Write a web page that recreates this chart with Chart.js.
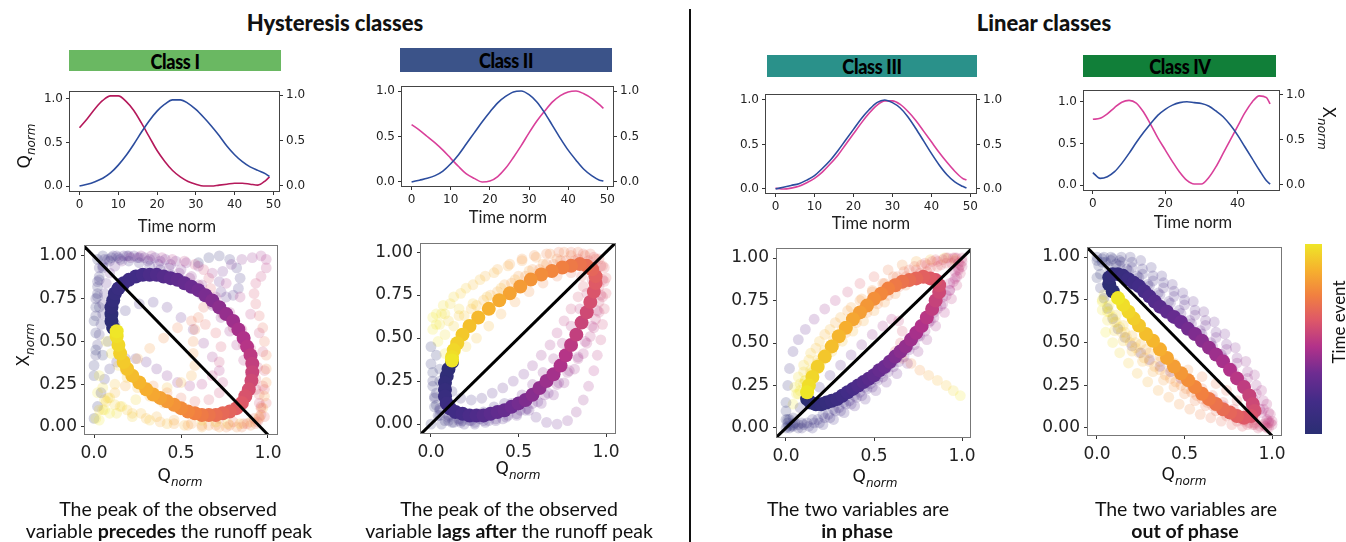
<!DOCTYPE html>
<html>
<head>
<meta charset="utf-8">
<script src="https://cdn.jsdelivr.net/npm/chart.js@4.4.1/dist/chart.umd.min.js"></script>
<style>
  html, body { margin: 0; padding: 0; background: #fff; }
  #page { position: relative; width: 1346px; height: 542px; overflow: hidden; font-family: Lato, 'Open Sans', sans-serif; color: #111; }
  canvas.layer { position: absolute; left: 0; top: 0; }
  .t { position: absolute; white-space: nowrap; transform: translate(-50%, -50%); }
  .title { font-weight: 900; font-size: 22px; }
  .bar { position: absolute; }
  .bar span { position: absolute; left: 50%; top: 50%; transform: translate(-50%, -52%) scaleX(0.86); font-weight: 900; font-size: 21px; letter-spacing: -0.4px; color: #000; white-space: nowrap; }
  .axl { font-size: 16.5px; color: #222; }
  .cap { font-size: 19.5px; color: #111; }
  .mpl { font-family: 'DejaVu Sans', sans-serif; font-size: 17px; color: #111; }
  .mpl i { font-size: 12px; position: relative; top: 5px; }
  .rot { transform: translate(-50%, -50%) rotate(-90deg); }
  .rotr { transform: translate(-50%, -50%) rotate(90deg); }
  #divider { position: absolute; left: 689px; top: 9px; width: 2px; height: 533px; background: #111; }
  #cbar { position: absolute; left: 1305px; top: 244px; width: 17px; height: 190px; }
</style>
</head>
<body>
<div id="page">
  <div class="t title" style="left:335px;top:22px">Hysteresis classes</div>
  <div class="t title" style="left:1044px;top:22px">Linear classes</div>
  <div id="divider"></div>

  <div class="bar" style="left:69px;top:50px;width:212px;height:21px;background:#6ab862"><span>Class I</span></div>
  <div class="bar" style="left:400px;top:48px;width:212px;height:24px;background:#3b5389"><span>Class II</span></div>
  <div class="bar" style="left:767px;top:55px;width:210px;height:22px;background:#2a918a"><span>Class III</span></div>
  <div class="bar" style="left:1083px;top:55px;width:193px;height:22px;background:#117f39"><span>Class IV</span></div>

  <canvas class="layer" id="l1" width="1346" height="542"></canvas>
  <canvas class="layer" id="l2" width="1346" height="542"></canvas>
  <canvas class="layer" id="l3" width="1346" height="542"></canvas>
  <canvas class="layer" id="l4" width="1346" height="542"></canvas>
  <canvas class="layer" id="s1" width="1346" height="542"></canvas>
  <canvas class="layer" id="s2" width="1346" height="542"></canvas>
  <canvas class="layer" id="s3" width="1346" height="542"></canvas>
  <canvas class="layer" id="s4" width="1346" height="542"></canvas>

  <div class="t axl" style="left:177px;top:226px">Time norm</div>
  <div class="t axl" style="left:508px;top:217px">Time norm</div>
  <div class="t axl" style="left:871px;top:223px">Time norm</div>
  <div class="t axl" style="left:1193px;top:222px">Time norm</div>

  <div class="t mpl rot" style="left:24px;top:146px">Q<i>norm</i></div>
  <div class="t mpl rotr" style="left:1329px;top:128px">X<i>norm</i></div>
  <div class="t mpl rot" style="left:23px;top:345px">X<i>norm</i></div>

  <div class="t mpl" style="left:180px;top:475px">Q<i>norm</i></div>
  <div class="t mpl" style="left:518px;top:468px">Q<i>norm</i></div>
  <div class="t mpl" style="left:875px;top:476px">Q<i>norm</i></div>
  <div class="t mpl" style="left:1184px;top:474px">Q<i>norm</i></div>

  <div id="cbar"></div>
  <div class="t rot" style="left:1338px;top:322px;font-size:17px;color:#111">Time event</div>

  <div class="t cap" style="left:168px;top:508px">The peak of the observed</div>
  <div class="t cap" style="left:169px;top:530px">variable <b>precedes</b> the runoff peak</div>
  <div class="t cap" style="left:509px;top:508px">The peak of the observed</div>
  <div class="t cap" style="left:509px;top:530px">variable <b>lags after</b> the runoff peak</div>
  <div class="t cap" style="left:858px;top:508px">The two variables are</div>
  <div class="t cap" style="left:857px;top:530px"><b>in phase</b></div>
  <div class="t cap" style="left:1186px;top:508px">The two variables are</div>
  <div class="t cap" style="left:1185px;top:530px"><b>out of phase</b></div>
</div>

<script>
// time axis of the small hydrograph panels
const timeSteps = [0, 2, 4, 6, 8, 10, 12, 14, 16, 18, 20, 22, 24, 26, 28, 30, 32, 34, 36, 38, 40, 42, 44, 46, 48, 49];

// Q_norm (blue, left axis) and X_norm (right axis) per class
const qClass1 = [0.00, 0.02, 0.05, 0.09, 0.15, 0.24, 0.35, 0.48, 0.62, 0.75, 0.86, 0.94, 0.99, 0.99, 0.95, 0.88, 0.79, 0.69, 0.58, 0.46, 0.36, 0.28, 0.22, 0.18, 0.14, 0.11];
const xClass1 = [0.64, 0.74, 0.85, 0.94, 0.99, 0.99, 0.93, 0.83, 0.69, 0.54, 0.39, 0.27, 0.17, 0.10, 0.05, 0.02, 0.00, 0.00, 0.01, 0.02, 0.03, 0.03, 0.02, 0.01, 0.06, 0.10];
const qClass2 = [0.00, 0.02, 0.04, 0.07, 0.12, 0.20, 0.30, 0.42, 0.54, 0.66, 0.77, 0.87, 0.94, 0.99, 1.00, 0.96, 0.88, 0.76, 0.62, 0.48, 0.35, 0.24, 0.14, 0.07, 0.02, 0.01];
const xClass2 = [0.63, 0.57, 0.50, 0.43, 0.35, 0.26, 0.17, 0.09, 0.04, 0.00, 0.01, 0.06, 0.15, 0.27, 0.40, 0.54, 0.67, 0.78, 0.88, 0.95, 0.99, 1.00, 0.97, 0.92, 0.85, 0.81];
const qClass3 = [0.00, 0.02, 0.04, 0.06, 0.10, 0.15, 0.23, 0.32, 0.43, 0.55, 0.67, 0.79, 0.89, 0.97, 1.00, 0.97, 0.91, 0.81, 0.68, 0.54, 0.40, 0.27, 0.16, 0.08, 0.03, 0.01];
const xClass3 = [0.01, 0.00, 0.01, 0.03, 0.07, 0.12, 0.19, 0.28, 0.38, 0.50, 0.62, 0.74, 0.85, 0.94, 0.99, 0.99, 0.95, 0.87, 0.77, 0.65, 0.53, 0.41, 0.30, 0.20, 0.12, 0.10];
const qClass4 = [0.15, 0.08, 0.10, 0.16, 0.26, 0.38, 0.51, 0.63, 0.74, 0.84, 0.91, 0.96, 0.99, 1.00, 0.99, 0.98, 0.95, 0.89, 0.82, 0.72, 0.60, 0.46, 0.32, 0.18, 0.05, 0.01];
const xClass4 = [0.73, 0.74, 0.79, 0.86, 0.92, 0.94, 0.91, 0.81, 0.67, 0.52, 0.39, 0.26, 0.14, 0.05, 0.01, 0.01, 0.08, 0.20, 0.35, 0.50, 0.65, 0.80, 0.92, 0.99, 0.97, 0.90];

const timeTicks = [0, 10, 20, 30, 40, 50];
const timeTicks4 = [0, 20, 40];
const lineTicks = [0, 0.5, 1];
const scatTicksX = [0, 0.5, 1];
const scatTicksY = [0, 0.25, 0.5, 0.75, 1];

// highlighted event per class, [Q, X] in time order
const mainEvent1 = [[0.11,0.58],[0.10,0.62],[0.10,0.66],[0.10,0.70],[0.11,0.74],[0.12,0.78],[0.14,0.81],[0.17,0.84],[0.20,0.86],[0.24,0.88],[0.28,0.89],[0.32,0.89],[0.36,0.89],[0.40,0.88],[0.44,0.87],[0.48,0.86],[0.52,0.84],[0.56,0.82],[0.60,0.80],[0.64,0.77],[0.68,0.74],[0.72,0.70],[0.76,0.66],[0.80,0.62],[0.83,0.57],[0.86,0.52],[0.88,0.47],[0.90,0.42],[0.91,0.37],[0.91,0.32],[0.905,0.27],[0.89,0.22],[0.87,0.18],[0.85,0.14],[0.82,0.11],[0.78,0.09],[0.74,0.08],[0.70,0.07],[0.66,0.07],[0.62,0.07],[0.58,0.08],[0.54,0.09],[0.50,0.11],[0.46,0.13],[0.42,0.15],[0.38,0.17],[0.34,0.19],[0.30,0.22],[0.26,0.26],[0.22,0.30],[0.19,0.34],[0.17,0.38],[0.15,0.43],[0.14,0.48],[0.13,0.53],[0.13,0.56]];
const mainEvent2 = [[0.12,0.36],[0.10,0.32],[0.09,0.28],[0.08,0.24],[0.08,0.20],[0.08,0.16],[0.09,0.12],[0.11,0.09],[0.14,0.07],[0.18,0.06],[0.22,0.05],[0.26,0.05],[0.30,0.05],[0.34,0.06],[0.38,0.07],[0.42,0.08],[0.46,0.10],[0.50,0.12],[0.54,0.14],[0.58,0.17],[0.62,0.21],[0.66,0.25],[0.70,0.29],[0.74,0.34],[0.77,0.40],[0.80,0.46],[0.83,0.52],[0.86,0.59],[0.89,0.65],[0.91,0.71],[0.93,0.77],[0.94,0.82],[0.94,0.86],[0.92,0.90],[0.89,0.92],[0.85,0.93],[0.80,0.92],[0.75,0.91],[0.69,0.89],[0.63,0.87],[0.57,0.84],[0.51,0.80],[0.45,0.76],[0.39,0.72],[0.33,0.67],[0.27,0.62],[0.22,0.57],[0.18,0.52],[0.15,0.47],[0.13,0.43],[0.12,0.39],[0.12,0.37]];
const mainEvent3 = [[0.12,0.17],[0.14,0.15],[0.17,0.14],[0.20,0.14],[0.23,0.15],[0.26,0.16],[0.29,0.17],[0.32,0.19],[0.35,0.21],[0.38,0.23],[0.41,0.25],[0.44,0.27],[0.47,0.29],[0.50,0.31],[0.53,0.34],[0.56,0.36],[0.59,0.39],[0.62,0.42],[0.65,0.45],[0.68,0.48],[0.71,0.52],[0.74,0.56],[0.77,0.60],[0.80,0.65],[0.83,0.70],[0.85,0.75],[0.87,0.80],[0.87,0.84],[0.85,0.87],[0.82,0.88],[0.78,0.89],[0.74,0.88],[0.70,0.87],[0.66,0.86],[0.62,0.84],[0.58,0.82],[0.54,0.79],[0.50,0.76],[0.46,0.72],[0.42,0.68],[0.38,0.64],[0.34,0.59],[0.30,0.54],[0.26,0.48],[0.22,0.42],[0.18,0.36],[0.15,0.30],[0.13,0.25],[0.12,0.21]];
const mainEvent4 = [[0.09,0.80],[0.07,0.84],[0.07,0.88],[0.09,0.90],[0.12,0.90],[0.15,0.89],[0.18,0.87],[0.21,0.85],[0.24,0.83],[0.27,0.80],[0.30,0.77],[0.33,0.74],[0.36,0.71],[0.40,0.68],[0.44,0.65],[0.48,0.62],[0.52,0.58],[0.56,0.55],[0.60,0.51],[0.64,0.47],[0.68,0.43],[0.72,0.39],[0.76,0.34],[0.80,0.29],[0.84,0.24],[0.87,0.19],[0.89,0.14],[0.90,0.10],[0.88,0.07],[0.84,0.06],[0.80,0.07],[0.76,0.09],[0.72,0.11],[0.68,0.14],[0.64,0.17],[0.60,0.20],[0.56,0.24],[0.52,0.28],[0.48,0.32],[0.44,0.36],[0.40,0.41],[0.36,0.46],[0.32,0.51],[0.28,0.55],[0.24,0.60],[0.21,0.64],[0.18,0.68],[0.15,0.72],[0.12,0.76]];

// other (faint) events per class
const otherEvents1 = [
  [[0.01,0.45],[0.01,0.55],[0.01,0.65],[0.01,0.75],[0.02,0.85],[0.03,0.93],[0.06,0.98],[0.11,1.0],[0.17,1.0],[0.23,1.0],[0.29,0.99],[0.35,0.99],[0.41,0.98],[0.47,0.97],[0.53,0.96],[0.60,0.94],[0.68,0.90],[0.76,0.84],[0.84,0.76],[0.90,0.66],[0.95,0.55],[0.97,0.44],[0.98,0.33],[0.98,0.22],[0.96,0.12],[0.92,0.05],[0.86,0.02],[0.78,0.01],[0.70,0.01],[0.62,0.01],[0.54,0.01],[0.46,0.02],[0.38,0.03],[0.30,0.05],[0.22,0.08],[0.15,0.12],[0.09,0.17],[0.05,0.23],[0.03,0.30]],
  [[0.02,0.98],[0.05,1.0],[0.10,0.99],[0.15,0.98],[0.20,0.97],[0.26,0.96],[0.32,0.94],[0.38,0.92],[0.44,0.89],[0.50,0.86],[0.56,0.82],[0.62,0.77],[0.68,0.71],[0.73,0.64],[0.78,0.56],[0.82,0.48],[0.86,0.39],[0.90,0.30],[0.93,0.22],[0.95,0.14],[0.96,0.07],[0.94,0.03],[0.88,0.02],[0.80,0.03],[0.72,0.05],[0.64,0.07],[0.56,0.09],[0.48,0.11],[0.40,0.14],[0.32,0.18],[0.25,0.23],[0.19,0.29],[0.14,0.36],[0.10,0.43],[0.07,0.50]],
  [[0.0,0.30],[0.0,0.36],[0.01,0.42],[0.02,0.48],[0.03,0.54],[0.04,0.60],[0.05,0.66],[0.05,0.72],[0.06,0.78],[0.07,0.84],[0.09,0.90],[0.12,0.94],[0.16,0.97],[0.21,0.99],[0.27,1.0],[0.33,1.0],[0.39,0.99],[0.45,0.98],[0.52,0.97],[0.58,0.95],[0.63,0.92],[0.66,0.87],[0.67,0.81],[0.66,0.75],[0.63,0.70],[0.60,0.64],[0.58,0.57],[0.57,0.50],[0.57,0.43],[0.58,0.36],[0.56,0.30],[0.50,0.26],[0.42,0.23],[0.33,0.20],[0.24,0.16],[0.16,0.12],[0.09,0.08]],
  [[0.60,0.96],[0.66,0.99],[0.72,1.0],[0.78,0.98],[0.82,0.93],[0.84,0.87],[0.83,0.81],[0.80,0.77],[0.76,0.76],[0.73,0.79],[0.72,0.85],[0.74,0.91],[0.79,0.95],[0.85,0.98],[0.91,0.99],[0.96,1.0],[0.99,0.98],[0.99,0.93],[0.96,0.88],[0.93,0.84],[0.92,0.78],[0.93,0.72],[0.95,0.65],[0.97,0.58],[0.98,0.50],[0.99,0.42],[0.99,0.34],[0.99,0.26],[0.98,0.18],[0.97,0.11],[0.95,0.06],[0.90,0.03],[0.84,0.02],[0.77,0.02],[0.70,0.03],[0.62,0.04]],
  [[0.05,0.42],[0.08,0.50],[0.12,0.60],[0.18,0.68],[0.26,0.72],[0.34,0.73],[0.42,0.70],[0.50,0.64],[0.57,0.57],[0.63,0.49],[0.68,0.41],[0.72,0.33],[0.74,0.26],[0.72,0.20],[0.66,0.16],[0.58,0.15],[0.50,0.17],[0.42,0.20],[0.34,0.24],[0.26,0.26],[0.18,0.24],[0.12,0.20],[0.07,0.15],[0.03,0.10],[0.01,0.05]],
  [[0.0,0.05],[0.02,0.12],[0.04,0.20],[0.06,0.28],[0.09,0.34],[0.13,0.38],[0.18,0.40],[0.24,0.40],[0.30,0.38],[0.36,0.34],[0.42,0.30],[0.48,0.26],[0.55,0.24],[0.62,0.25],[0.68,0.30],[0.72,0.38],[0.73,0.47],[0.70,0.55],[0.64,0.60],[0.56,0.62],[0.48,0.58],[0.40,0.52],[0.32,0.46],[0.25,0.40],[0.18,0.33],[0.12,0.25],[0.08,0.17],[0.05,0.10],[0.03,0.04]],
  [[0.0,0.62],[0.01,0.70],[0.02,0.78],[0.03,0.86],[0.05,0.93],[0.09,0.97],[0.14,0.99],[0.20,1.0],[0.26,0.99],[0.32,0.98],[0.38,0.97],[0.44,0.95],[0.50,0.92],[0.56,0.88],[0.62,0.83],[0.70,0.76],[0.78,0.67],[0.85,0.57],[0.90,0.46],[0.94,0.35],[0.97,0.24],[0.99,0.14],[0.98,0.06],[0.93,0.02],[0.85,0.0],[0.76,0.0],[0.66,0.01],[0.56,0.02],[0.46,0.04],[0.36,0.06],[0.27,0.08],[0.19,0.10],[0.12,0.13],[0.06,0.16],[0.02,0.20]],
  [[0.03,0.70],[0.02,0.76],[0.02,0.82],[0.03,0.88],[0.05,0.94],[0.08,0.98],[0.13,1.0],[0.19,1.0],[0.25,0.99],[0.31,0.97],[0.37,0.95],[0.43,0.93],[0.49,0.90],[0.55,0.87],[0.60,0.83],[0.64,0.78],[0.68,0.72],[0.74,0.66],[0.80,0.58],[0.86,0.48],[0.90,0.38],[0.93,0.28],[0.95,0.19],[0.96,0.11],[0.95,0.05],[0.90,0.01],[0.82,0.0],[0.72,0.0],[0.62,0.0],[0.52,0.01],[0.42,0.02],[0.32,0.04],[0.22,0.06],[0.13,0.08],[0.06,0.10]]
];
const otherEvents2 = [
  [[0.02,0.10],[0.04,0.05],[0.08,0.02],[0.13,0.01],[0.19,0.0],[0.25,0.0],[0.31,0.01],[0.37,0.02],[0.43,0.04],[0.49,0.06],[0.55,0.09],[0.61,0.13],[0.67,0.18],[0.73,0.24],[0.79,0.31],[0.84,0.39],[0.88,0.48],[0.92,0.57],[0.95,0.66],[0.97,0.75],[0.98,0.84],[0.97,0.92],[0.93,0.97],[0.87,0.99],[0.80,1.0],[0.73,1.0],[0.66,0.99],[0.59,0.98],[0.52,0.96],[0.45,0.93],[0.38,0.90],[0.31,0.86],[0.24,0.81],[0.17,0.76],[0.11,0.70],[0.06,0.64],[0.03,0.58]],
  [[0.01,0.30],[0.01,0.22],[0.02,0.15],[0.05,0.08],[0.10,0.04],[0.16,0.02],[0.22,0.02],[0.28,0.03],[0.34,0.05],[0.40,0.08],[0.46,0.12],[0.52,0.17],[0.58,0.23],[0.64,0.30],[0.70,0.38],[0.75,0.47],[0.80,0.57],[0.85,0.67],[0.89,0.76],[0.92,0.84],[0.93,0.91],[0.90,0.95],[0.84,0.96],[0.77,0.95],[0.70,0.93],[0.62,0.90],[0.54,0.86],[0.46,0.82],[0.38,0.77],[0.30,0.72],[0.23,0.67],[0.16,0.63],[0.10,0.60],[0.05,0.58],[0.01,0.55]],
  [[0.0,0.0],[0.06,0.0],[0.12,0.01],[0.18,0.02],[0.24,0.04],[0.30,0.07],[0.36,0.10],[0.42,0.12],[0.48,0.11],[0.54,0.08],[0.60,0.04],[0.66,0.01],[0.72,0.0],[0.78,0.02],[0.83,0.07],[0.87,0.14],[0.90,0.22],[0.93,0.31],[0.95,0.40],[0.97,0.49],[0.98,0.58],[0.99,0.67],[1.0,0.76],[1.0,0.85],[0.98,0.92],[0.94,0.96],[0.88,0.98],[0.80,0.98],[0.72,0.96],[0.64,0.93],[0.56,0.89],[0.48,0.84],[0.40,0.79],[0.32,0.74],[0.24,0.70],[0.16,0.67],[0.08,0.64],[0.01,0.62]],
  [[0.03,0.40],[0.05,0.32],[0.08,0.25],[0.12,0.19],[0.17,0.15],[0.23,0.14],[0.29,0.15],[0.35,0.18],[0.41,0.21],[0.47,0.25],[0.53,0.29],[0.58,0.34],[0.63,0.40],[0.68,0.46],[0.72,0.53],[0.76,0.60],[0.80,0.67],[0.84,0.74],[0.87,0.80],[0.86,0.86],[0.80,0.88],[0.72,0.86],[0.64,0.82],[0.56,0.77],[0.48,0.71],[0.40,0.64],[0.33,0.57],[0.26,0.50],[0.20,0.45],[0.14,0.42],[0.08,0.41]],
  [[0.0,0.45],[0.0,0.35],[0.01,0.25],[0.02,0.16],[0.05,0.09],[0.10,0.05],[0.16,0.03],[0.23,0.02],[0.30,0.02],[0.37,0.03],[0.44,0.05],[0.51,0.08],[0.58,0.12],[0.65,0.17],[0.72,0.23],[0.78,0.30],[0.84,0.38],[0.89,0.47],[0.93,0.56],[0.96,0.65],[0.98,0.74],[0.99,0.83],[0.99,0.91],[0.96,0.96],[0.91,0.99],[0.84,1.0],[0.76,1.0],[0.68,0.99],[0.60,0.97],[0.52,0.95],[0.44,0.92],[0.36,0.88],[0.28,0.84],[0.20,0.79],[0.13,0.74],[0.07,0.69],[0.03,0.64]],
  [[0.05,0.25],[0.03,0.18],[0.03,0.11],[0.05,0.05],[0.10,0.02],[0.17,0.01],[0.25,0.01],[0.33,0.02],[0.41,0.03],[0.49,0.05],[0.56,0.08],[0.63,0.12],[0.70,0.17],[0.76,0.24],[0.82,0.32],[0.87,0.41],[0.91,0.51],[0.94,0.61],[0.96,0.71],[0.96,0.80],[0.94,0.88],[0.89,0.93],[0.82,0.95],[0.74,0.95],[0.66,0.93],[0.58,0.90],[0.50,0.86],[0.42,0.81],[0.34,0.75],[0.26,0.69],[0.19,0.63],[0.13,0.57],[0.08,0.52],[0.04,0.48]]
];
const otherEvents3 = [
  [[0.0,0.0],[0.03,0.01],[0.07,0.02],[0.12,0.03],[0.18,0.05],[0.24,0.08],[0.30,0.12],[0.36,0.16],[0.42,0.21],[0.48,0.26],[0.54,0.32],[0.60,0.38],[0.66,0.45],[0.72,0.52],[0.78,0.60],[0.84,0.68],[0.89,0.77],[0.93,0.85],[0.96,0.92],[0.98,0.97],[0.96,1.0],[0.91,1.0],[0.85,0.99],[0.79,0.97],[0.73,0.95],[0.67,0.92],[0.61,0.89],[0.55,0.85],[0.49,0.81],[0.43,0.76],[0.37,0.71],[0.31,0.65],[0.25,0.58],[0.19,0.51],[0.14,0.44],[0.10,0.37],[0.07,0.30],[0.05,0.24]],
  [[0.02,0.05],[0.05,0.03],[0.10,0.02],[0.16,0.03],[0.22,0.06],[0.28,0.10],[0.34,0.14],[0.40,0.18],[0.46,0.23],[0.52,0.28],[0.58,0.33],[0.64,0.39],[0.70,0.46],[0.76,0.54],[0.82,0.63],[0.88,0.72],[0.93,0.81],[0.97,0.89],[1.0,0.95],[1.0,1.0],[0.95,1.0],[0.89,0.99],[0.83,0.98],[0.77,0.96],[0.70,0.93],[0.63,0.89],[0.56,0.85],[0.49,0.80],[0.42,0.75],[0.35,0.69],[0.28,0.62],[0.22,0.55],[0.17,0.47],[0.13,0.40],[0.10,0.33],[0.08,0.26],[0.06,0.20]],
  [[0.0,0.10],[0.01,0.05],[0.04,0.01],[0.09,0.0],[0.15,0.0],[0.21,0.02],[0.27,0.05],[0.33,0.09],[0.39,0.13],[0.45,0.17],[0.51,0.22],[0.57,0.27],[0.63,0.32],[0.69,0.38],[0.75,0.45],[0.80,0.52],[0.85,0.60],[0.90,0.68],[0.94,0.76],[0.97,0.84],[0.99,0.91],[0.99,0.96],[0.96,0.98],[0.91,0.97],[0.86,0.95],[0.80,0.92],[0.74,0.88],[0.68,0.84],[0.62,0.79],[0.56,0.74],[0.50,0.69],[0.44,0.63],[0.38,0.57],[0.32,0.51],[0.26,0.45],[0.20,0.39],[0.15,0.33],[0.11,0.28]],
  [[0.01,0.01],[0.04,0.06],[0.08,0.12],[0.13,0.18],[0.19,0.24],[0.25,0.31],[0.31,0.37],[0.37,0.43],[0.43,0.49],[0.49,0.55],[0.55,0.60],[0.60,0.64],[0.64,0.63],[0.66,0.57],[0.65,0.50],[0.62,0.45],[0.66,0.41],[0.71,0.38],[0.76,0.34],[0.81,0.31],[0.86,0.28],[0.91,0.25],[0.95,0.22],[0.99,0.19]],
  [[0.0,0.15],[0.01,0.25],[0.02,0.35],[0.04,0.45],[0.07,0.52],[0.11,0.58],[0.16,0.64],[0.22,0.70],[0.28,0.75],[0.35,0.80],[0.42,0.85],[0.50,0.89],[0.58,0.93],[0.66,0.96],[0.74,0.98],[0.82,0.99],[0.90,1.0],[0.96,0.99]],
  [[0.01,0.03],[0.04,0.02],[0.09,0.03],[0.15,0.05],[0.21,0.08],[0.27,0.11],[0.33,0.15],[0.39,0.19],[0.45,0.24],[0.51,0.29],[0.57,0.35],[0.63,0.41],[0.69,0.47],[0.75,0.54],[0.81,0.62],[0.86,0.70],[0.91,0.78],[0.95,0.86],[0.98,0.93],[1.0,0.98],[0.97,1.0],[0.92,1.0],[0.86,0.98],[0.80,0.96],[0.74,0.93],[0.68,0.89],[0.62,0.85],[0.56,0.80],[0.50,0.75],[0.44,0.70],[0.38,0.64],[0.32,0.58],[0.27,0.52],[0.22,0.46],[0.18,0.40],[0.14,0.34],[0.11,0.28],[0.08,0.22]],
  [[0.0,0.05],[0.02,0.0],[0.07,0.0],[0.13,0.01],[0.19,0.03],[0.25,0.06],[0.31,0.10],[0.37,0.14],[0.43,0.19],[0.49,0.24],[0.55,0.30],[0.61,0.36],[0.67,0.42],[0.73,0.49],[0.79,0.57],[0.84,0.65],[0.89,0.73],[0.93,0.81],[0.96,0.88],[0.98,0.94],[0.94,0.97],[0.88,0.96],[0.82,0.94],[0.76,0.91],[0.70,0.87],[0.64,0.83],[0.58,0.78],[0.52,0.73],[0.46,0.68],[0.40,0.62],[0.34,0.56],[0.28,0.50],[0.23,0.44],[0.18,0.38],[0.14,0.32],[0.10,0.26],[0.07,0.20],[0.04,0.14]]
];
const otherEvents4 = [
  [[0.0,1.0],[0.04,1.0],[0.09,0.99],[0.14,0.97],[0.20,0.94],[0.26,0.90],[0.32,0.86],[0.38,0.82],[0.44,0.77],[0.50,0.72],[0.56,0.66],[0.62,0.60],[0.68,0.53],[0.74,0.46],[0.80,0.38],[0.86,0.29],[0.91,0.20],[0.95,0.11],[0.98,0.04],[0.97,0.0],[0.92,0.0],[0.86,0.02],[0.80,0.04],[0.74,0.07],[0.68,0.10],[0.62,0.13],[0.56,0.16],[0.50,0.20],[0.44,0.24],[0.38,0.28],[0.32,0.33],[0.26,0.39],[0.20,0.45],[0.15,0.51],[0.10,0.57],[0.06,0.63],[0.03,0.69]],
  [[0.01,0.95],[0.05,0.97],[0.11,0.96],[0.17,0.93],[0.23,0.89],[0.29,0.84],[0.35,0.79],[0.41,0.74],[0.47,0.69],[0.53,0.63],[0.59,0.57],[0.65,0.50],[0.71,0.43],[0.77,0.35],[0.83,0.27],[0.88,0.19],[0.93,0.11],[0.97,0.05],[1.0,0.02],[0.98,0.0],[0.93,0.01],[0.87,0.03],[0.81,0.06],[0.75,0.09],[0.69,0.12],[0.63,0.15],[0.57,0.19],[0.51,0.23],[0.45,0.27],[0.39,0.31],[0.33,0.36],[0.27,0.41],[0.22,0.47],[0.17,0.53],[0.13,0.59],[0.09,0.65],[0.06,0.71]],
  [[0.02,0.90],[0.07,0.94],[0.13,0.98],[0.19,1.0],[0.25,0.98],[0.31,0.94],[0.37,0.89],[0.43,0.84],[0.49,0.79],[0.55,0.74],[0.61,0.68],[0.67,0.62],[0.73,0.55],[0.79,0.47],[0.85,0.39],[0.90,0.31],[0.94,0.22],[0.97,0.14],[0.99,0.08],[0.99,0.03],[0.95,0.02],[0.89,0.02],[0.83,0.01],[0.77,0.02],[0.71,0.04],[0.65,0.06],[0.59,0.08],[0.53,0.11],[0.47,0.14],[0.41,0.18],[0.35,0.22],[0.29,0.27],[0.23,0.32],[0.18,0.38],[0.13,0.44],[0.09,0.50],[0.05,0.56]],
  [[0.0,0.88],[0.02,0.82],[0.04,0.76],[0.06,0.70],[0.09,0.64],[0.12,0.58],[0.16,0.53],[0.20,0.48],[0.25,0.44],[0.30,0.40],[0.36,0.36],[0.42,0.33],[0.48,0.29],[0.54,0.25],[0.60,0.21],[0.66,0.17],[0.72,0.13],[0.78,0.09],[0.84,0.06],[0.90,0.03],[0.86,0.10],[0.80,0.16],[0.74,0.22],[0.68,0.26],[0.60,0.30],[0.52,0.34],[0.44,0.38],[0.36,0.42],[0.28,0.46],[0.22,0.50],[0.16,0.56],[0.11,0.62],[0.07,0.68],[0.03,0.74]],
  [[0.0,0.98],[0.03,0.99],[0.08,0.98],[0.13,0.95],[0.18,0.92],[0.24,0.88],[0.30,0.83],[0.36,0.78],[0.42,0.73],[0.48,0.67],[0.54,0.61],[0.60,0.55],[0.66,0.48],[0.72,0.41],[0.78,0.33],[0.84,0.25],[0.89,0.17],[0.94,0.09],[0.98,0.03],[0.96,0.01],[0.90,0.02],[0.84,0.04],[0.78,0.07],[0.72,0.10],[0.66,0.13],[0.60,0.17],[0.54,0.21],[0.48,0.25],[0.42,0.29],[0.36,0.34],[0.30,0.39],[0.24,0.44],[0.19,0.50],[0.14,0.56],[0.10,0.62],[0.06,0.68],[0.03,0.75]],
  [[0.03,0.97],[0.08,1.0],[0.14,1.0],[0.20,0.97],[0.26,0.93],[0.32,0.89],[0.38,0.85],[0.44,0.80],[0.50,0.75],[0.56,0.69],[0.62,0.63],[0.68,0.56],[0.74,0.49],[0.80,0.41],[0.86,0.33],[0.91,0.25],[0.95,0.16],[0.98,0.09],[1.0,0.04],[0.96,0.03],[0.90,0.05],[0.84,0.07],[0.78,0.11],[0.72,0.15],[0.66,0.19],[0.60,0.23],[0.54,0.27],[0.48,0.31],[0.42,0.35],[0.36,0.39],[0.30,0.44],[0.25,0.49],[0.20,0.54],[0.15,0.60],[0.11,0.66],[0.07,0.72],[0.04,0.78]]
];

// 1:1 and 1:-1 reference lines
const diagDown = [[-0.06, 1.06], [1.0, -0.045]];
const diagUp = [[-0.06, -0.06], [1.06, 1.06]];

const W = 1346, H = 542;
const BLUE = '#2c4d9e';

// colour map used for "Time event"
const cmapStops = [
  [0.00, [42, 46, 115]],
  [0.17, [66, 44, 135]],
  [0.32, [110, 44, 145]],
  [0.46, [178, 50, 138]],
  [0.60, [222, 88, 104]],
  [0.73, [241, 128, 64]],
  [0.86, [246, 176, 46]],
  [1.00, [239, 230, 40]]
];
function cmap(f, a) {
  for (let i = 1; i < cmapStops.length; i++) {
    if (f <= cmapStops[i][0] + 1e-9) {
      const [f0, c0] = cmapStops[i - 1], [f1, c1] = cmapStops[i];
      const k = (f - f0) / (f1 - f0);
      const c = c0.map((v, j) => Math.round(v + (c1[j] - v) * k));
      return `rgba(${c[0]},${c[1]},${c[2]},${a})`;
    }
  }
  return `rgba(239,230,40,${a})`;
}
document.getElementById('cbar').style.background =
  'linear-gradient(to top,' + cmapStops.map(s => cmap(s[0], 1) + ' ' + (s[0] * 100) + '%').join(',') + ')';

// draws the full frame round the plot area
function framePlugin(color) {
  return {
    id: 'frame',
    afterDraw(chart) {
      const a = chart.chartArea, ctx = chart.ctx;
      ctx.save();
      ctx.strokeStyle = color;
      ctx.lineWidth = 1;
      ctx.strokeRect(a.left - 0.5, a.top - 0.5, a.right - a.left + 1, a.bottom - a.top + 1);
      ctx.restore();
    }
  };
}

function axis(pos, min, max, ticks, dec, fontSize, size, pad) {
  return {
    type: 'linear', position: pos, min: min, max: max,
    afterBuildTicks: s => { s.ticks = ticks.map(v => ({ value: v })); },
    afterFit: s => { if (pos === 'bottom') s.height = size; else s.width = size; },
    grid: { drawOnChartArea: false, drawTicks: true, tickLength: 4, tickColor: '#333', color: '#333' },
    border: { display: false },
    ticks: {
      callback: v => Number(v).toFixed(dec),
      font: { family: 'DejaVu Sans', size: fontSize }, color: '#222',
      padding: pad, maxRotation: 0, autoSkip: false
    }
  };
}

function lineChart(id, box, yl, yr, xticks, q, x, xColor) {
  const yW = 40, y2W = 34, xH = 22;
  new Chart(document.getElementById(id), {
    type: 'line',
    data: {
      datasets: [
        { data: timeSteps.map((t, i) => ({ x: t, y: q[i] })), borderColor: BLUE, yAxisID: 'y' },
        { data: timeSteps.map((t, i) => ({ x: t, y: x[i] })), borderColor: xColor, yAxisID: 'y2' }
      ]
    },
    options: {
      responsive: false, animation: false, events: [],
      layout: { padding: { left: box[0] - yW, top: box[1], right: W - box[2] - y2W, bottom: H - box[3] - xH } },
      plugins: { legend: { display: false }, tooltip: { enabled: false } },
      elements: { point: { radius: 0 }, line: { borderWidth: 1.6, cubicInterpolationMode: 'monotone' } },
      scales: {
        x: axis('bottom', -2.45, 51.45, xticks, 0, 12, xH, 3),
        y: axis('left', yl[0], yl[1], lineTicks, 1, 12, yW, 3),
        y2: axis('right', yr[0], yr[1], lineTicks, 1, 12, y2W, 3)
      }
    },
    plugins: [framePlugin('#444')]
  });
}

function scatterChart(id, box, xr, yr, main, others, diag) {
  const yW = 48, xH = 28;
  const toXY = ev => ev.map(p => ({ x: p[0], y: p[1] }));
  const sets = [
    { data: toXY(diag), showLine: true, borderColor: '#000', borderWidth: 3, pointRadius: 0 },
    { data: toXY(main), pointRadius: 7, pointBorderWidth: 0,
      pointBackgroundColor: main.map((p, i) => cmap(i / (main.length - 1), 1)) }
  ];
  others.forEach(ev => sets.push({
    data: toXY(ev), pointRadius: 5.4, pointBorderWidth: 0,
    pointBackgroundColor: ev.map((p, i) => cmap(i / (ev.length - 1), 0.2))
  }));
  new Chart(document.getElementById(id), {
    type: 'scatter',
    data: { datasets: sets },
    options: {
      responsive: false, animation: false, events: [],
      layout: { padding: { left: box[0] - yW, top: box[1], right: W - box[2], bottom: H - box[3] - xH } },
      plugins: { legend: { display: false }, tooltip: { enabled: false } },
      scales: {
        x: axis('bottom', xr[0], xr[1], scatTicksX, 1, 17, xH, 5),
        y: axis('left', yr[0], yr[1], scatTicksY, 2, 17, yW, 4)
      }
    },
    plugins: [framePlugin('#777')]
  });
}

lineChart('l1', [70, 92, 279, 191], [-0.057, 1.08], [-0.055, 1.033], timeTicks, qClass1, xClass1, '#b5195b');
lineChart('l2', [402, 87, 613, 186], [-0.044, 1.044], [-0.044, 1.044], timeTicks, qClass2, xClass2, '#d9409a');
lineChart('l3', [766, 95, 976, 193], [-0.045, 1.056], [-0.045, 1.056], timeTicks, qClass3, xClass3, '#d9409a');
lineChart('l4', [1084, 91, 1279, 190], [-0.06, 1.13], [-0.056, 1.044], timeTicks4, qClass4, xClass4, '#d9409a');

scatterChart('s1', [85, 246, 277, 434], [-0.052, 1.052], [-0.041, 1.058], mainEvent1, otherEvents1, diagDown);
scatterChart('s2', [421, 244, 615, 433], [-0.057, 1.051], [-0.052, 1.047], mainEvent2, otherEvents2, diagUp);
scatterChart('s3', [777, 249, 970, 437], [-0.051, 1.045], [-0.053, 1.053], mainEvent3, otherEvents3, diagUp);
scatterChart('s4', [1088, 248, 1281, 435], [-0.051, 1.051], [-0.041, 1.053], mainEvent4, otherEvents4, diagDown);
</script>
</body>
</html>
